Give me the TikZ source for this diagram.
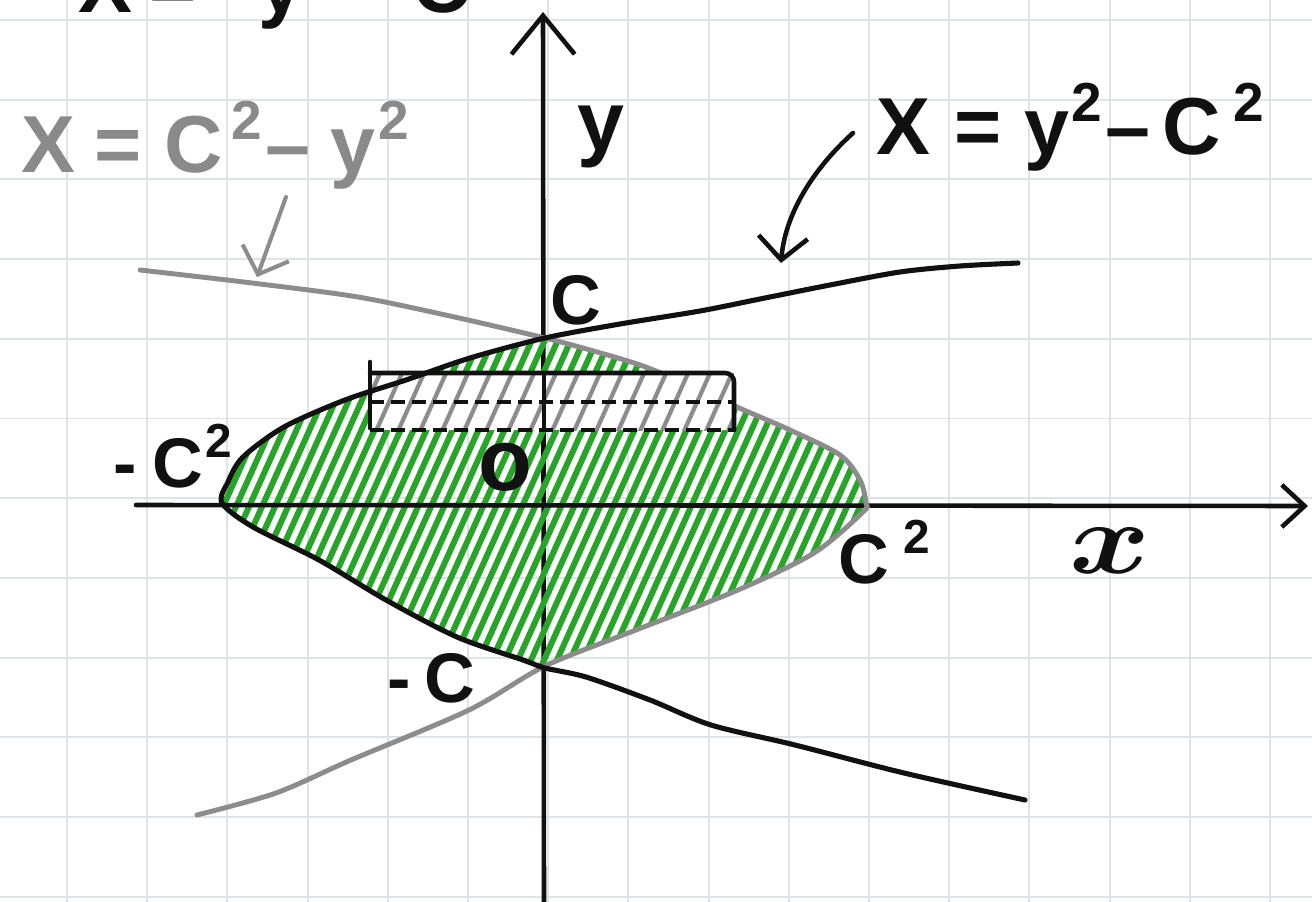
\documentclass[tikz,border=0pt]{standalone}
\usepackage{fontspec}
\setmainfont{Liberation Sans}
\usetikzlibrary{arrows.meta}
\definecolor{gridc}{RGB}{224,227,229}
\definecolor{hatchgreen}{RGB}{40,165,40}
\definecolor{curvegray}{RGB}{140,140,140}
\definecolor{labelgray}{RGB}{138,138,138}
\definecolor{inkblack}{RGB}{17,17,17}
\newcommand\sqr{\raisebox{0.42em}{\scalebox{0.68}{2}}}
\begin{document}
\begin{tikzpicture}[x=0.02cm,y=-0.02cm,
  gridline/.style={draw=gridc,line width=1.1pt},
  axis/.style={draw=inkblack,line width=2.6pt,line cap=round},
  blackcurve/.style={draw=inkblack,line width=2.9pt,line cap=round,line join=round},
  graycurve/.style={draw=curvegray,line width=2.8pt,line cap=round,line join=round},
  greenstroke/.style={draw=hatchgreen,line width=3.4pt,line cap=round},
  grayhatch/.style={draw=curvegray,line width=2.4pt},
  rectline/.style={draw=inkblack,line width=2.6pt,line cap=round},
  dashline/.style={draw=inkblack,line width=2.6pt,dash pattern=on 8pt off 4pt},
  lbl/.style={inner sep=0pt,text=inkblack,font=\fontsize{40}{40}\selectfont\bfseries},
  biglbl/.style={inner sep=0pt,font=\fontsize{46}{46}\selectfont\bfseries},
  mathlbl/.style={inner sep=0pt,text=inkblack,font=\mathversion{bold}},
  pointer/.style={line cap=round,-{Straight Barb[length=13pt,width=28pt]}}
]
\useasboundingbox (0,0) rectangle (1312,902);
\fill[white] (0,0) rectangle (1312,902);
% grid
\foreach \k in {0,...,15} \draw[gridline] ({67+80.2*\k},0) -- ({67+80.2*\k},902);
\foreach \k in {0,...,11} \draw[gridline] (0,{20+79.7*\k}) -- (1312,{20+79.7*\k});
% y axis
\coordinate (ybot) at (544,902);
\coordinate (ytop) at (543,12);
\draw[axis,-{Straight Barb[length=22pt,width=36pt]}] (ybot) -- (ytop);
% green hatched region
\begin{scope}
\clip plot[smooth] coordinates {(222,503) (228,482) (243,457) (284,427) (345,400) (406,380) (470,358) (545,338)}
 -- plot[smooth] coordinates {(545,338) (590,350) (640,365) (690,385) (737,407) (790,430) (840,455) (860,480) (866,503)}
 -- plot[smooth] coordinates {(866,503) (863,512) (814,553) (738,590) (636,630) (545,666)}
 -- plot[smooth] coordinates {(545,668) (523,660) (457,637) (386,600) (319,560) (253,527) (222,503)} -- cycle;
\foreach \s in {110,123,...,800} \draw[greenstroke] (\s,700) -- ++(180,-400);
\end{scope}
% x axis
\coordinate (xleft) at (136,505);
\coordinate (xright) at (1308,506);
\draw[axis,-{Straight Barb[length=13pt,width=24pt]}] (xleft) -- (xright);
% gray curve x = c^2 - y^2
\draw[graycurve] plot[smooth] coordinates {(140,270) (252,283) (358,297) (450,316) (545,338) (590,350) (640,365) (690,385) (737,407) (790,430) (840,455) (860,480) (866,503) (863,512) (814,553) (738,590) (636,630) (545,666) (469,710) (351,760) (276,793) (197,815)};
% strip rectangle
\fill[white] (370,373) rectangle (734,430);
\begin{scope}
\clip (370,373) rectangle (734,430);
\foreach \s in {328,350,...,750} \draw[grayhatch] (\s,440) -- ++(36,-80);
\end{scope}
\draw[axis] (544,373) -- (544,430);
\draw[dashline] (370,402) -- (734,402);
\draw[dashline] (370,430) -- (734,430);
\draw[rectline] (370,362) -- (370,428);
\draw[rectline,rounded corners=5pt] (370,373) -- (734,373) -- (734,430);
% black curve x = y^2 - c^2
\draw[blackcurve] plot[smooth] coordinates {(1018,263) (960,266) (900,272) (830,285) (760,299) (700,311) (620,324) (545,338) (470,358) (406,380) (345,400) (284,427) (243,457) (228,482) (222,503) (253,527) (319,560) (386,600) (457,637) (523,660) (545,668) (586,677) (650,700) (711,725) (795,745) (904,773) (1025,800)};
% labels
\node[biglbl,text=inkblack,anchor=base west] (toptext) at (78,13) {X\kern10pt=\kern35pt y\kern1pt\sqr\kern8pt--\kern10pt C\sqr};
\node[biglbl,text=labelgray,anchor=base west] (graylabel) at (21,173) {X\kern11pt=\kern13pt C\kern5pt\sqr\kern2pt--\kern11pt y\kern2pt\sqr};
\node[biglbl,text=inkblack,anchor=base west] (blacklabel) at (876,155) {X\kern14pt=\kern13pt y\kern1pt\sqr\kern2pt--\kern7pt C\kern7pt\sqr};
\node[lbl,font=\fontsize{48}{48}\selectfont\bfseries] (ylab) at (601,137) {y};
\node[lbl] (clab) at (576,300) {C};
\node[lbl,anchor=base west] (mc2lab) at (113,487) {-\kern9pt C\kern1pt\sqr};
\node[lbl,font=\fontsize{50}{50}\selectfont\bfseries] (olab) at (505,467) {o};
\node[lbl,anchor=base west] (c2lab) at (838,583) {C\kern8pt\sqr};
\node[lbl,anchor=base west] (mclab) at (387,702) {-\kern8pt C};
\node[mathlbl] (xlab) at (1110,551) {\scalebox{7}[5.8]{$x$}};
% pointer arrows
\coordinate (gaS) at (286,197);
\coordinate (gaE) at (257,277);
\draw[graycurve,line width=2.3pt,pointer] (gaS) -- (gaE);
\coordinate (baS) at (853,133);
\coordinate (baE) at (781,263);
\draw[blackcurve,line width=2.6pt,pointer] (baS) .. controls (812,170) and (785,215) .. (baE);
\end{tikzpicture}
\end{document}
